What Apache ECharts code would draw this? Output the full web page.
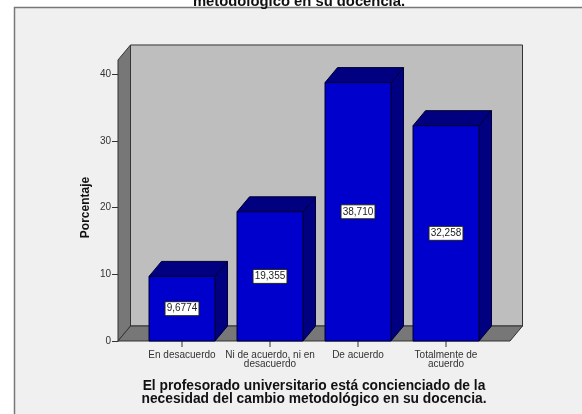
<!DOCTYPE html>
<html><head><meta charset="utf-8">
<style>html,body{margin:0;padding:0;background:#fff}#c{width:582px;height:414px}</style>
<script src="https://cdn.jsdelivr.net/npm/echarts@6/dist/echarts.min.js"></script>
</head><body><div id="c"></div>
<script>
const categories = ['En desacuerdo', 'Ni de acuerdo, ni en\ndesacuerdo', 'De acuerdo', 'Totalmente de\nacuerdo'];
const percentages = [9.6774, 19.355, 38.710, 32.258];
const valueLabels = ['9,6774', '19,355', '38,710', '32,258'];
const yTicks = [0, 10, 20, 30, 40];
const chartTitle = 'metodológico en su docencia.';
const xTitle = 'El profesorado universitario está concienciado de la\nnecesidad del cambio metodológico en su docencia.';
const yTitle = 'Porcentaje';

const font = '"Liberation Sans", Arial, sans-serif';
const DX = 12.5, DY = 15, SIDE = 20, WALL_MAX = 42.1, TICK = 6;
const line = { stroke: '#333', lineWidth: 1 };

function renderWalls(params, api) {
  const c = params.coordSys;
  const y0 = api.coord([0, 0])[1];
  const yT = api.coord([0, WALL_MAX])[1];
  const xL = c.x - SIDE, xR = c.x + c.width + SIDE;
  const poly = (points, fill) => ({ type: 'polygon', shape: { points }, style: { fill, ...line } });
  return { type: 'group', children: [
    poly([[xL + DX, yT - DY], [xR + DX, yT - DY], [xR + DX, y0 - DY], [xL + DX, y0 - DY]], '#BEBEBE'),
    poly([[xL, yT], [xL + DX, yT - DY], [xL + DX, y0 - DY], [xL, y0]], '#777777'),
    poly([[xL, y0], [xL + DX, y0 - DY], [xR + DX, y0 - DY], [xR, y0]], '#777777')
  ]};
}
function renderBar(params, api) {
  const i = api.value(0), v = api.value(1);
  const top = api.coord([i, v]), base = api.coord([i, 0]);
  const w = api.size([1, 0])[0] * 0.75;
  const x0 = top[0] - w / 2, x1 = top[0] + w / 2, y1 = top[1], y0 = base[1];
  const edge = { stroke: '#000033', lineWidth: 1 };
  const poly = (points, fill) => ({ type: 'polygon', shape: { points }, style: { fill, ...edge } });
  return { type: 'group', children: [
    { type: 'line', shape: { x1: top[0], y1: y0, x2: top[0], y2: y0 + TICK }, style: { stroke: '#333', lineWidth: 1 } },
    poly([[x1, y1], [x1 + DX, y1 - DY], [x1 + DX, y0 - DY], [x1, y0]], '#000080'),
    poly([[x0, y1], [x0 + DX, y1 - DY], [x1 + DX, y1 - DY], [x1, y1]], '#000080'),
    { type: 'rect', shape: { x: x0, y: y1, width: w, height: y0 - y1 }, style: { fill: '#0000CC', ...edge } },
    { type: 'rect', shape: { x: top[0] - 17, y: (y0 + y1) / 2 - 7, width: 34, height: 14 }, style: { fill: '#fff', stroke: '#222', lineWidth: 1 } },
    { type: 'text', x: top[0], y: (y0 + y1) / 2, style: { text: valueLabels[params.dataIndex], fill: '#222', font: '10px ' + font, align: 'center', verticalAlign: 'middle' } }
  ]};
}

const chart = echarts.init(document.getElementById('c'), null, { renderer: 'canvas' });
chart.setOption({
  animation: false,
  backgroundColor: '#fff',
  graphic: [{ type: 'rect', z: -10, silent: true, shape: { x: 14.5, y: 7.5, width: 580, height: 420 },
    style: { fill: '#F0F0F0', stroke: '#777', lineWidth: 1.5 } }],
  title: { text: chartTitle, left: 294, top: -11, textAlign: 'center',
    textStyle: { fontFamily: font, fontSize: 14.8, fontWeight: 'bold', color: '#111' } },
  grid: { left: 138, width: 352, top: 74, height: 267, outerBoundsMode: 'none' },
  xAxis: { type: 'category', data: categories,
    name: xTitle, nameLocation: 'middle', nameGap: 39, nameMoveOverlap: false,
    nameTextStyle: { fontFamily: font, fontSize: 13.8, fontWeight: 'bold', color: '#111', lineHeight: 13 },
    axisLine: { show: false },
    axisTick: { show: false },
    axisLabel: { fontFamily: font, fontSize: 10, color: '#333', lineHeight: 9.5, margin: 9, interval: 0, hideOverlap: false } },
  yAxis: { type: 'value', min: yTicks[0], max: yTicks[yTicks.length - 1], interval: 10, offset: 20,
    name: yTitle, nameLocation: 'middle', nameGap: 26, nameMoveOverlap: false,
    nameTextStyle: { fontFamily: font, fontSize: 12, fontWeight: 'bold', color: '#111' },
    splitLine: { show: false },
    axisLine: { show: true, lineStyle: { color: '#333' } },
    axisTick: { show: true, length: 6, lineStyle: { color: '#333' } },
    axisLabel: { fontFamily: font, fontSize: 10, color: '#333', margin: 7 } },
  series: [
    { type: 'custom', z: 1, clip: false, silent: true, renderItem: renderWalls, data: [[0, 0]], encode: { x: 0, y: 1 } },
    { type: 'custom', z: 2, clip: false, silent: true, renderItem: renderBar,
      data: percentages.map((v, i) => [i, v]), encode: { x: 0, y: 1 } }
  ]
});
</script></body></html>
